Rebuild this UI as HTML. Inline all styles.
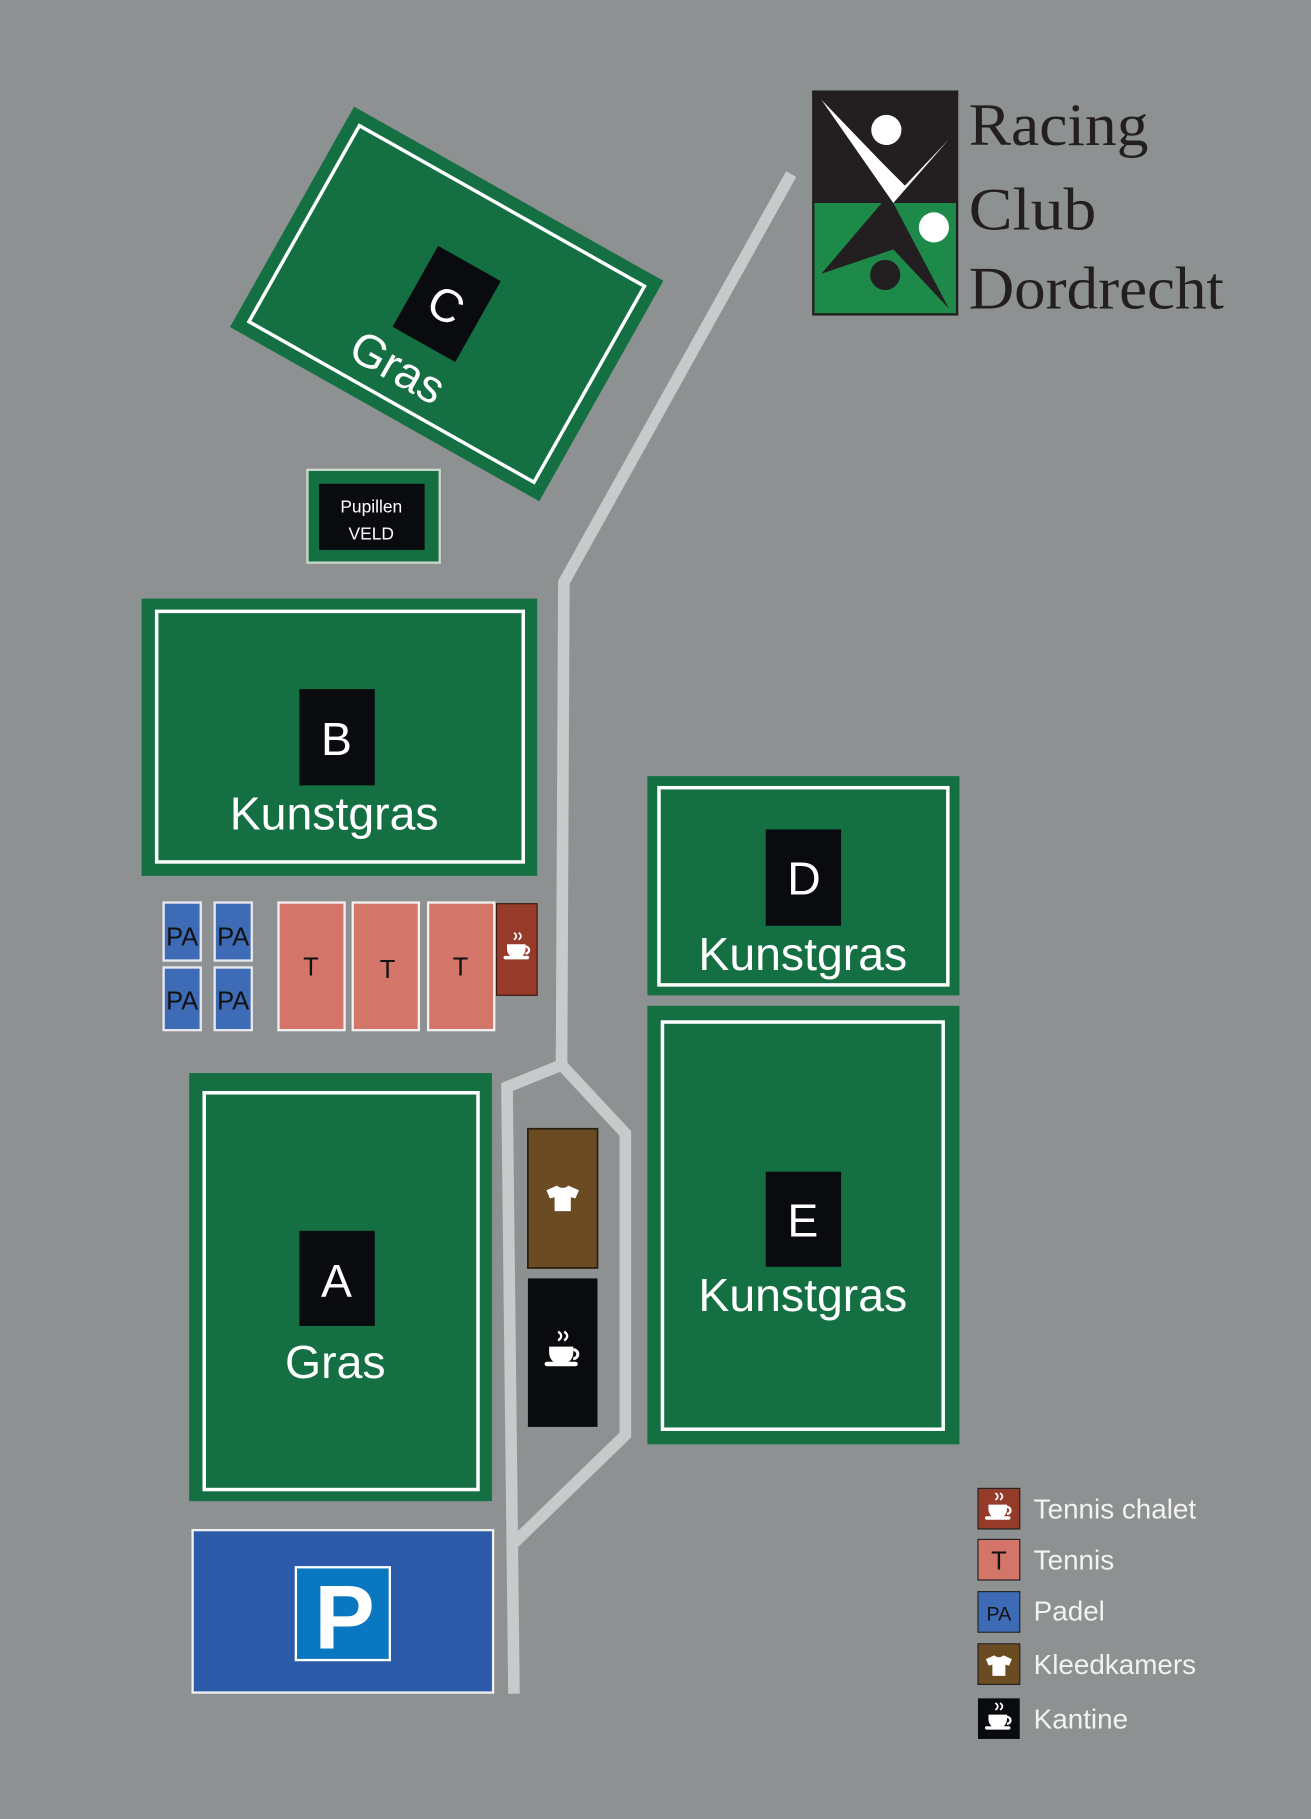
<!DOCTYPE html>
<html><head><meta charset="utf-8"><style>
html,body{margin:0;padding:0;background:#8e9192;}
svg{display:block}
text{font-family:"Liberation Sans",sans-serif;}
text.serif{font-family:"Liberation Serif",serif;}
</style></head><body>
<svg width="1311" height="1819" viewBox="0 0 1130 1568" xmlns="http://www.w3.org/2000/svg">
<defs>
<g id="cup" fill="#fff">
<path d="M-9,-4 h16 v4 a8,8 0 0 1 -16,0 z"/><path d="M7,-2 a3,3 0 0 1 0,6" stroke="#fff" stroke-width="2" fill="none"/>
<rect x="-12" y="6" width="22" height="3" rx="1.5"/><path d="M-3,-14 q4,3 0,6 M1,-14 q4,3 0,6" stroke="#fff" stroke-width="1.5" fill="none"/>
</g>
<g id="shirt" fill="#fff"><path d="M-5,-10 L-14,-6 L-11,1 L-7,0 L-7,12 L7,12 L7,0 L11,1 L14,-6 L5,-10 Q0,-6 -5,-10 z"/></g>
</defs>
<rect width="1130" height="1568" fill="#8e9192"/>
<g stroke="#c8c9ca" stroke-width="10" fill="none" stroke-linejoin="miter">
<polyline points="682,150 486,502 484,918"/>
<polyline points="484,918 437,937 443,1460"/>
<polyline points="484,918 539,977 539,1237 443,1330"/>
</g>
<g transform="translate(385,262) rotate(29.4)">
<rect x="-153" y="-109" width="306" height="218" fill="#146f43"/>
<rect x="-141" y="-97" width="282" height="194" fill="none" stroke="#fff" stroke-width="3"/>
<rect x="-31" y="-40" width="62" height="80" fill="#0a0b0f"/>
<text x="0" y="15" font-size="40" fill="#fff" text-anchor="middle">C</text>
<text x="-10" y="82" font-size="40" fill="#fff" text-anchor="middle">Gras</text>
</g>
<rect x="265" y="405" width="114" height="80" fill="#146f43" stroke="#c8d8cc" stroke-width="2"/>
<rect x="275" y="417" width="91" height="57" fill="#0a0b0f"/>
<text x="320" y="442" font-size="15" fill="#fff" text-anchor="middle">Pupillen</text>
<text x="320" y="465" font-size="15" fill="#fff" text-anchor="middle">VELD</text>
<rect x="122" y="516" width="341" height="239" fill="#146f43"/>
<rect x="135" y="527" width="316" height="216" fill="none" stroke="#fff" stroke-width="3"/>
<rect x="258" y="594" width="65" height="83" fill="#0a0b0f"/>
<text x="290" y="651" font-size="40" fill="#fff" text-anchor="middle">B</text>
<text x="288" y="715" font-size="40" fill="#fff" text-anchor="middle">Kunstgras</text>
<g fill="#3e6bb5" stroke="#e8e8f0" stroke-width="2">
<rect x="141" y="778" width="32" height="50"/><rect x="185" y="778" width="32" height="50"/>
<rect x="141" y="834" width="32" height="54"/><rect x="185" y="834" width="32" height="54"/>
</g>
<g font-size="22" fill="#111" text-anchor="middle">
<text x="157" y="815">PA</text><text x="201" y="815">PA</text>
<text x="157" y="870">PA</text><text x="201" y="870">PA</text>
</g>
<g fill="#d4756a" stroke="#f0f0f0" stroke-width="2">
<rect x="240" y="778" width="57" height="110"/><rect x="304" y="778" width="57" height="110"/><rect x="369" y="778" width="57" height="110"/>
</g>
<g font-size="22" fill="#111" text-anchor="middle">
<text x="268" y="841">T</text><text x="334" y="843">T</text><text x="397" y="841">T</text>
</g>
<rect x="428" y="779" width="35" height="79" fill="#963a2a" stroke="#3a1a10" stroke-width="1"/>
<use href="#cup" transform="translate(446,818)"/>
<rect x="163" y="925" width="261" height="369" fill="#146f43"/>
<rect x="176" y="942" width="236" height="342" fill="none" stroke="#fff" stroke-width="3"/>
<rect x="258" y="1061" width="65" height="82" fill="#0a0b0f"/>
<text x="290" y="1118" font-size="40" fill="#fff" text-anchor="middle">A</text>
<text x="289" y="1188" font-size="40" fill="#fff" text-anchor="middle">Gras</text>
<rect x="558" y="669" width="269" height="189" fill="#146f43"/>
<rect x="568" y="679" width="249" height="170" fill="none" stroke="#fff" stroke-width="3"/>
<rect x="660" y="715" width="65" height="83" fill="#0a0b0f"/>
<text x="693" y="771" font-size="40" fill="#fff" text-anchor="middle">D</text>
<text x="692" y="836" font-size="40" fill="#fff" text-anchor="middle">Kunstgras</text>
<rect x="558" y="867" width="269" height="378" fill="#146f43"/>
<rect x="571" y="881" width="242" height="351" fill="none" stroke="#fff" stroke-width="3"/>
<rect x="660" y="1010" width="65" height="82" fill="#0a0b0f"/>
<text x="692" y="1066" font-size="40" fill="#fff" text-anchor="middle">E</text>
<text x="692" y="1130" font-size="40" fill="#fff" text-anchor="middle">Kunstgras</text>
<rect x="455" y="973" width="60" height="120" fill="#6a4b22" stroke="#2a2010" stroke-width="1.5"/>
<use href="#shirt" transform="translate(485,1032)"/>
<rect x="455" y="1102" width="60" height="128" fill="#0a0b0f"/>
<use href="#cup" transform="translate(485,1166) scale(1.3)"/>
<rect x="166" y="1319" width="259" height="140" fill="#2b5aa8" stroke="#f0f0f0" stroke-width="2"/>
<rect x="255" y="1351" width="81" height="80" fill="#0a78c0" stroke="#fff" stroke-width="2"/>
<text x="297" y="1421" font-size="78" font-weight="bold" fill="#fff" text-anchor="middle">P</text>
<rect x="701" y="79" width="124" height="192" fill="#1d8a4a" stroke="#231f20" stroke-width="2"/>
<rect x="701" y="79" width="124" height="96" fill="#231f20"/>
<path d="M708,86 L770,175 L818,120 L780,160 L760,140 Z" fill="#fff"/>
<circle cx="764" cy="112" r="13" fill="#fff"/>
<path d="M708,236 L760,175 L770,175 L818,266 L770,215 Z" fill="#231f20"/>
<circle cx="805" cy="196" r="13" fill="#fff"/>
<circle cx="763" cy="237" r="13" fill="#231f20"/>
<g font-size="52" fill="#231f20">
<text class="serif" x="835" y="125" textLength="155" lengthAdjust="spacingAndGlyphs">Racing</text>
<text class="serif" x="835" y="198" textLength="110" lengthAdjust="spacingAndGlyphs">Club</text>
<text class="serif" x="835" y="266" textLength="220" lengthAdjust="spacingAndGlyphs">Dordrecht</text>
</g>
<rect x="843" y="1283" width="36" height="35" fill="#963a2a" stroke="#222" stroke-width="1"/>
<use href="#cup" transform="translate(861,1301)"/>
<rect x="843" y="1327" width="36" height="35" fill="#d4756a" stroke="#222" stroke-width="1"/>
<text x="861" y="1353" font-size="22" fill="#111" text-anchor="middle">T</text>
<rect x="843" y="1372" width="36" height="35" fill="#3e6bb5" stroke="#222" stroke-width="1"/>
<text x="861" y="1397" font-size="17" fill="#111" text-anchor="middle">PA</text>
<rect x="843" y="1417" width="36" height="35" fill="#6a4b22" stroke="#222" stroke-width="1"/>
<use href="#shirt" transform="translate(861,1435) scale(0.8)"/>
<rect x="843" y="1464" width="36" height="35" fill="#0a0b0f"/>
<use href="#cup" transform="translate(861,1482)"/>
<g font-size="24" fill="#f2f2f2">
<text x="891" y="1309">Tennis chalet</text>
<text x="891" y="1353">Tennis</text>
<text x="891" y="1397">Padel</text>
<text x="891" y="1443">Kleedkamers</text>
<text x="891" y="1490">Kantine</text>
</g>
</svg>
</body></html>
